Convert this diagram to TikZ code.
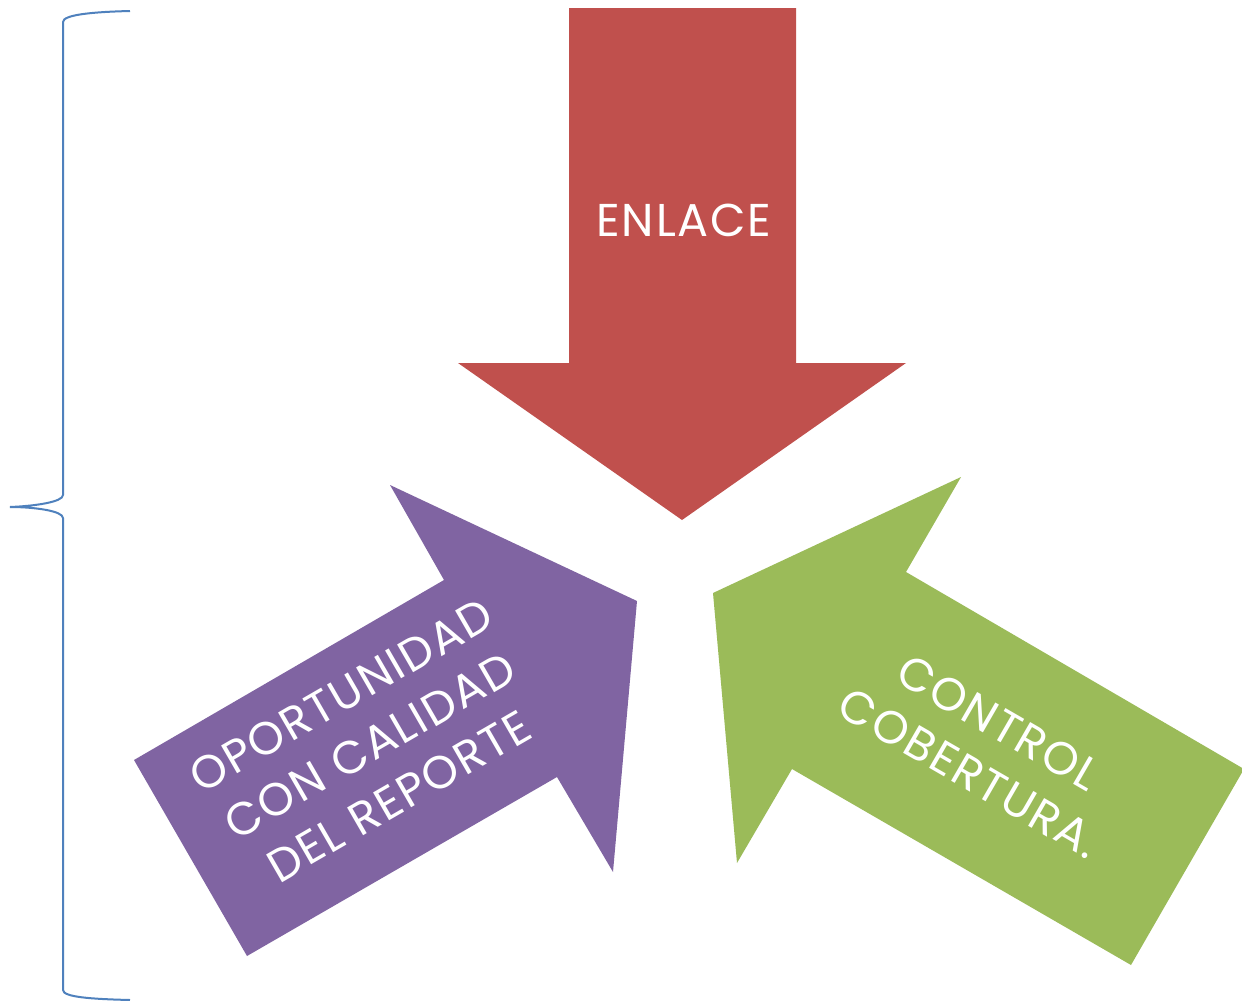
\documentclass[tikz,border=0pt]{standalone}
\usepackage{fontspec}
\setmainfont{Poppins}[LetterSpace=4]
\definecolor{cred}{HTML}{C0504D}
\definecolor{cpurple}{HTML}{8064A2}
\definecolor{cgreen}{HTML}{9BBB59}
\definecolor{cblue}{HTML}{4F81BD}
\tikzset{
  lbl/.style={text=white, align=center, inner sep=0pt, font=\fontsize{46}{58}\selectfont},
  bracestyle/.style={draw=cblue, line width=2pt}
}
\begin{document}
\begin{tikzpicture}[x=1pt,y=-1pt]
\useasboundingbox (0,0) rectangle (1242,1001);
\fill[white] (0,0) rectangle (1242,1001);
% red arrow
\fill[cred] (569,8) -- (796,8) -- (796,363) -- (906,363) -- (682,520) -- (458,363) -- (569,363) -- cycle;
% purple arrow
\fill[cpurple] (134,760) -- (444,580) -- (390,485) -- (637,601) -- (613,872) -- (557,777) -- (247,956) -- cycle;
% green arrow
\fill[cgreen] (1244,769) -- (906,572) -- (961,477) -- (713,593) -- (737,863) -- (792,769) -- (1131,965) -- cycle;
% labels
\node[lbl] (enlace) at (684,220) {ENLACE};
\node[lbl, rotate=30] (oport) at (370,746) {OPORTUNIDAD\\CON CALIDAD\\DEL REPORTE};
\node[lbl, rotate=-30] (control) at (984,748) {CONTROL\\COBERTURA.};
% brace
\draw[bracestyle] (130,11) .. controls (90,12) and (63,15) .. (63,22) -- (63,495) .. controls (63,502) and (35,506) .. (10,507) .. controls (35,507) and (63,511) .. (63,518) -- (63,990) .. controls (63,997) and (90,999) .. (130,1000);
\end{tikzpicture}
\end{document}
